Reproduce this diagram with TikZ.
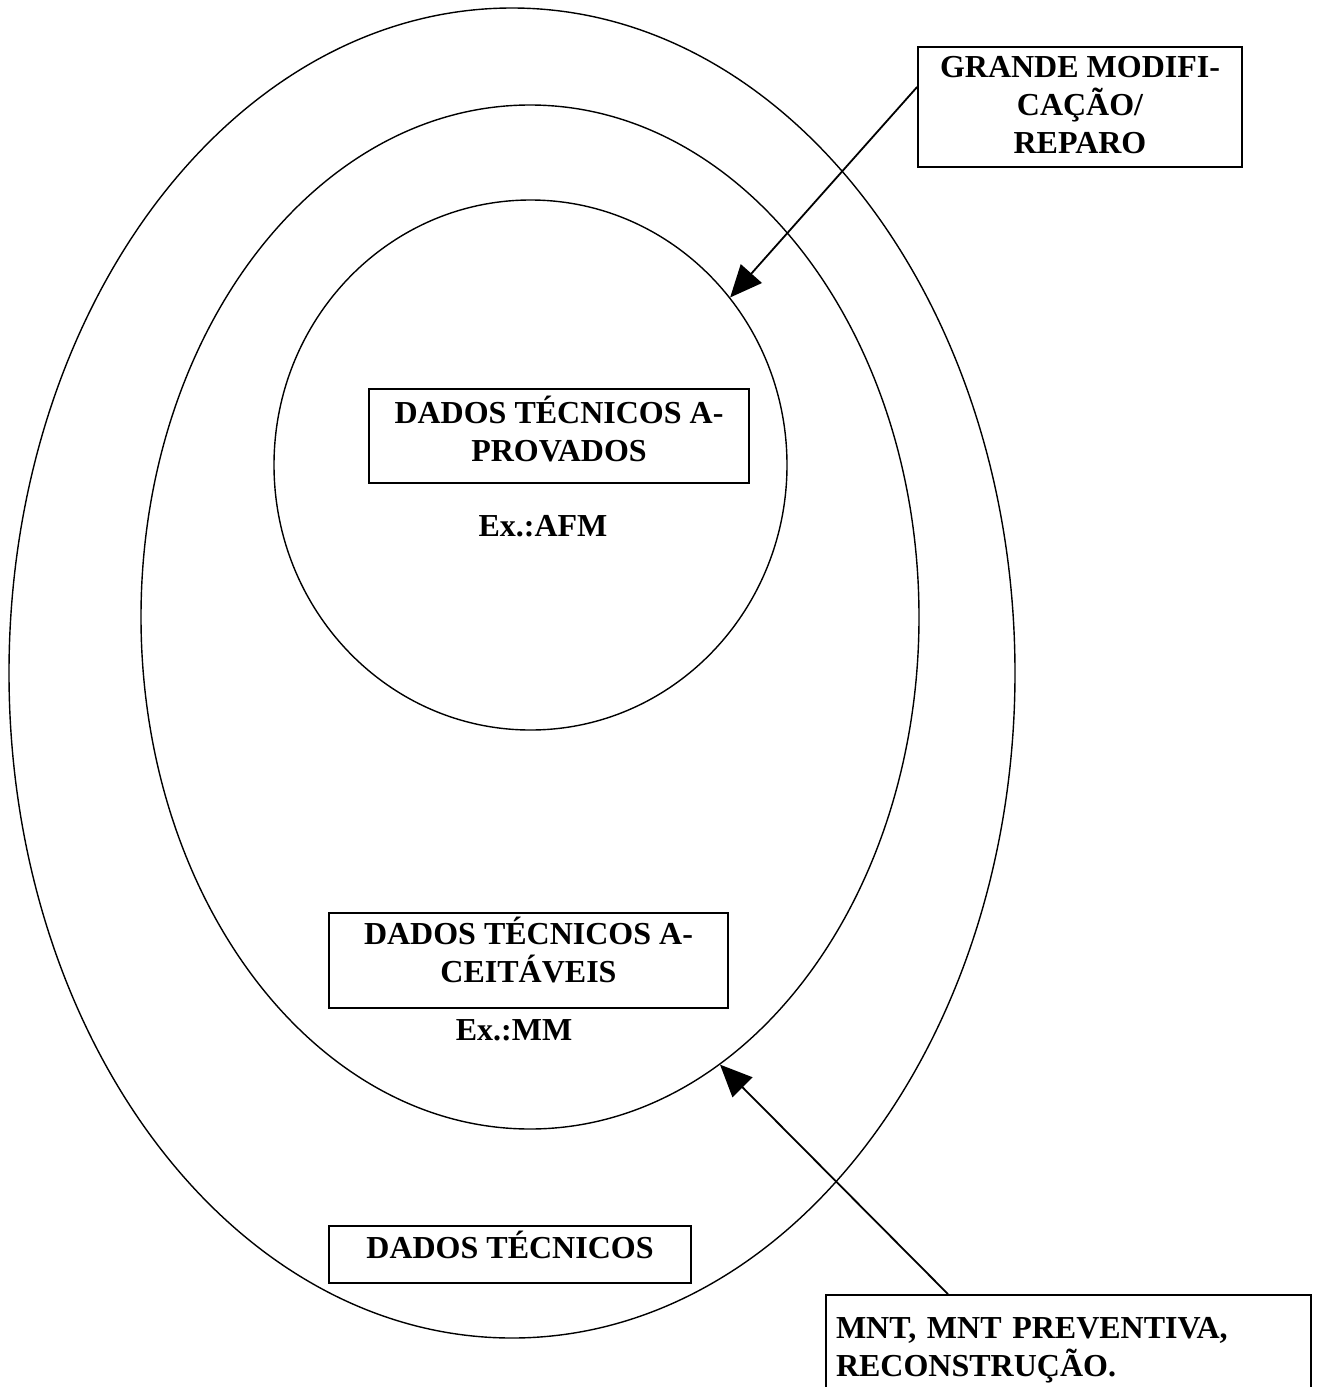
\documentclass[tikz,border=0pt]{standalone}
\usepackage{fontspec}
\setmainfont{Liberation Serif}
\usetikzlibrary{arrows.meta,shapes.geometric}
\begin{document}
\begin{tikzpicture}[x=1pt,y=-1pt,
  ring/.style={draw,ellipse,inner sep=0pt,line width=1.4pt},
  lbl/.style={draw,line width=1.8pt,font=\fontsize{32}{38}\selectfont\bfseries,align=center,inner xsep=0pt,inner ysep=0pt},
  plain/.style={font=\fontsize{32}{38}\selectfont\bfseries,inner sep=0pt},
  arr/.style={line width=1.8pt,-{Triangle[length=32pt,width=28pt]}}]
\useasboundingbox (0,0) rectangle (1318,1387);
\clip (0,0) rectangle (1318,1387);
\node[ring,minimum width=1006pt,minimum height=1330pt] (outer) at (512,673) {};
\node[ring,minimum width=778pt,minimum height=1024pt] (middle) at (530,617) {};
\node[ring,minimum width=513pt,minimum height=530pt] (inner) at (530.5,465) {};
\node[lbl,minimum width=324pt,minimum height=120pt,text height=97pt,text depth=5pt] (gm) at (1080,107) {GRANDE MODIFI-\\CAÇÃO/\\REPARO};
\node[lbl,minimum width=380pt,minimum height=94pt,text height=59pt,text depth=9pt] (aprov) at (559,436) {DADOS TÉCNICOS A-\\PROVADOS};
\node[plain,anchor=base] (exafm) at (543,536) {Ex.:AFM};
\node[lbl,minimum width=399pt,minimum height=95pt,text height=59pt,text depth=16pt] (aceit) at (528.5,960.5) {DADOS TÉCNICOS A-\\CEITÁVEIS};
\node[plain,anchor=base] (exmm) at (514,1040) {Ex.:MM};
\node[lbl,minimum width=362pt,minimum height=57pt,text height=21pt,text depth=14pt] (dt) at (510,1254.5) {DADOS TÉCNICOS};
\node[lbl,align=left,text width=465pt,inner xsep=10pt,minimum height=125pt,text height=21pt,text depth=60pt] (mnt) at (1068.5,1357.5) {MNT, MNT PREVENTIVA,\\RECONSTRUÇÃO.};
\draw[arr] ([yshift=20pt]gm.west) -- (inner.40.7);
\draw[arr] ([xshift=-120.5pt]mnt.north) -- (middle.-67.2);
\end{tikzpicture}
\end{document}
